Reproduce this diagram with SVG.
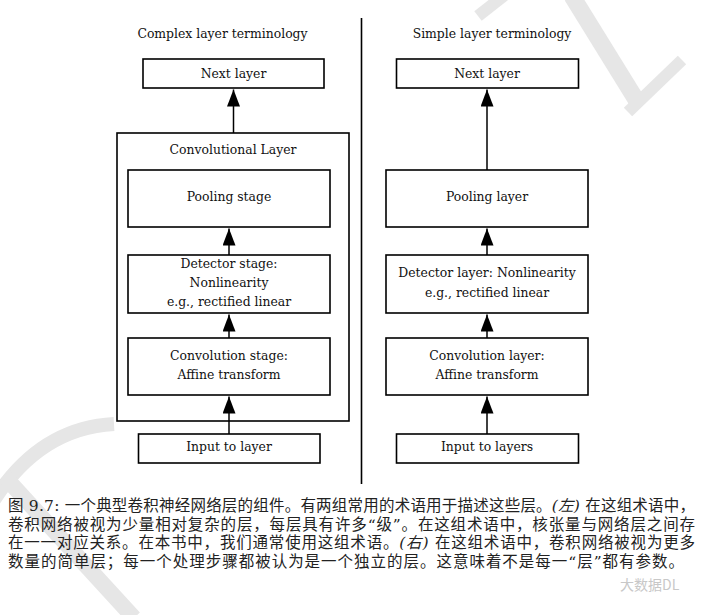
<svg xmlns="http://www.w3.org/2000/svg" width="704" height="615" viewBox="0 0 704 615">
<defs>
<style>
.box{fill:#fff;stroke:#000;stroke-width:1.6}
.outer{fill:none;stroke:#000;stroke-width:1.6}
.lbl{font-family:'DejaVu Serif',serif;font-size:12.4px;fill:#111;text-anchor:middle}
.conn line{stroke:#000;stroke-width:1.5;marker-end:url(#ah)}
.cap{font-family:'DejaVu Serif','Noto Sans CJK SC',serif;font-size:15.5px;fill:#222}
.wm{fill:none;stroke:#e6e6e6;stroke-linecap:butt}
</style>
<marker id="ah" markerUnits="userSpaceOnUse" markerWidth="18" markerHeight="14" refX="17" refY="6.5" orient="auto">
<path d="M0,0 L17,6.5 L0,13 z" fill="#000"/>
</marker>
</defs>
<rect width="704" height="615" fill="#fff"/>
<g id="watermark">
<path class="wm" d="M572,-4 L640,106" stroke-width="17"/>
<path class="wm" d="M682,60 L628,112" stroke-width="12"/>
<path class="wm" d="M478,16 L506,-6" stroke-width="12"/>
<path class="wm" d="M-6,500 Q40,428 114,424" stroke-width="14"/>
<path class="wm" d="M4,476 L134,618" stroke-width="16"/>
</g>
<line x1="361.5" y1="18" x2="361.5" y2="484" stroke="#000" stroke-width="1.6"/>
<text class="lbl" x="222.5" y="38">Complex layer terminology</text>
<text class="lbl" x="492" y="38">Simple layer terminology</text>
<g id="left-next"><rect class="box" x="143" y="59" width="181" height="29"/><text class="lbl" x="233.5" y="78">Next layer</text></g>
<g id="left-convlayer"><rect class="outer" x="117" y="133" width="232" height="288"/><text class="lbl" x="233" y="154">Convolutional Layer</text></g>
<g id="left-pool"><rect class="box" x="128" y="170" width="202" height="57"/><text class="lbl" x="229" y="201">Pooling stage</text></g>
<g id="left-detector"><rect class="box" x="128" y="255" width="202" height="58"/><text class="lbl" x="229" y="268">Detector stage:</text><text class="lbl" x="229" y="287">Nonlinearity</text><text class="lbl" x="229" y="306">e.g., rectified linear</text></g>
<g id="left-conv"><rect class="box" x="128" y="338" width="202" height="57"/><text class="lbl" x="229" y="360">Convolution stage:</text><text class="lbl" x="229" y="379">Affine transform</text></g>
<g id="left-input"><rect class="box" x="138.5" y="434" width="181.5" height="29"/><text class="lbl" x="229" y="451">Input to layer</text></g>
<g id="right-next"><rect class="box" x="396.5" y="59" width="182" height="29"/><text class="lbl" x="487" y="78">Next layer</text></g>
<g id="right-pool"><rect class="box" x="386" y="170" width="202" height="57"/><text class="lbl" x="487" y="201">Pooling layer</text></g>
<g id="right-detector"><rect class="box" x="386" y="255" width="202" height="58"/><text class="lbl" x="487" y="277">Detector layer: Nonlinearity</text><text class="lbl" x="487" y="297">e.g., rectified linear</text></g>
<g id="right-conv"><rect class="box" x="386" y="338" width="202" height="57"/><text class="lbl" x="487" y="360">Convolution layer:</text><text class="lbl" x="487" y="379">Affine transform</text></g>
<g id="right-input"><rect class="box" x="396.5" y="434" width="182" height="29"/><text class="lbl" x="487" y="451">Input to layers</text></g>
<g class="conn" id="connectors">
<line x1="233.5" y1="133" x2="233.5" y2="89.5"/>
<line x1="229" y1="255" x2="229" y2="228.5"/>
<line x1="229" y1="338" x2="229" y2="314.5"/>
<line x1="229" y1="434" x2="229" y2="396.5"/>
<line x1="487" y1="170" x2="487" y2="89.5"/>
<line x1="487" y1="255" x2="487" y2="228.5"/>
<line x1="487" y1="338" x2="487" y2="314.5"/>
<line x1="487" y1="434" x2="487" y2="396.5"/>
</g>
<g id="caption">
<text class="cap" x="8" y="511" textLength="687" lengthAdjust="spacing">图 9.7: 一个典型卷积神经网络层的组件。有两组常用的术语用于描述这些层。<tspan font-style="italic">(左)</tspan> 在这组术语中，</text>
<text class="cap" x="8" y="529.5" textLength="687" lengthAdjust="spacing">卷积网络被视为少量相对复杂的层，每层具有许多“级”。在这组术语中，核张量与网络层之间存</text>
<text class="cap" x="8" y="548" textLength="687" lengthAdjust="spacing">在一一对应关系。在本书中，我们通常使用这组术语。<tspan font-style="italic">(右)</tspan> 在这组术语中，卷积网络被视为更多</text>
<text class="cap" x="8" y="566.5" textLength="676" lengthAdjust="spacing">数量的简单层；每一个处理步骤都被认为是一个独立的层。这意味着不是每一“层”都有参数。</text>
</g>
<text x="620" y="590" font-family="'Noto Sans CJK SC', sans-serif" font-size="14" fill="#c8c8c8">大数据DL</text>
</svg>
